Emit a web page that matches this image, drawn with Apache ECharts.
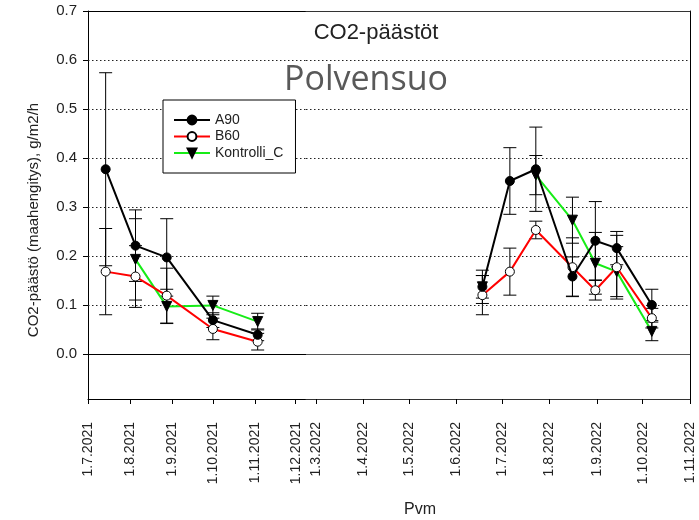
<!DOCTYPE html>
<html>
<head>
<meta charset="utf-8">
<script src="https://cdn.jsdelivr.net/npm/echarts@6.0.0/dist/echarts.min.js"></script>
<style>
  html, body { margin: 0; padding: 0; background: #fff; }
  #chart { width: 699px; height: 520px; }
</style>
</head>
<body>
<div id="chart"></div>
<script>
// Sampling dates (two field seasons, drawn on a broken time axis)
const dates2021 = ['2021-07-14', '2021-08-05', '2021-08-28', '2021-10-01', '2021-11-03'];
const dates2022 = ['2022-06-18', '2022-07-06', '2022-07-23', '2022-08-16', '2022-08-31', '2022-09-14', '2022-10-07'];

// CO2 emission means (g/m2/h) and error-bar half widths
const a90_2021    = [0.377, 0.221, 0.197, 0.069, 0.039];
const a90Err2021  = [0.197, 0.073, 0.079, 0.015, 0.012];
const b60_2021    = [0.168, 0.158, 0.119, 0.051, 0.025];
const b60Err2021  = [0.088, 0.063, 0.056, 0.022, 0.017];
const kon_2021    = [null, 0.193, 0.097, 0.099, 0.066];
const konErr2021  = [null, 0.083, 0.035, 0.019, 0.017];

const a90_2022    = [0.137, 0.353, 0.377, 0.158, 0.231, 0.216, 0.100];
const a90Err2022  = [0.034, 0.068, 0.086, 0.040, 0.080, 0.034, 0.032];
const b60_2022    = [0.120, 0.168, 0.253, 0.177, 0.130, 0.177, 0.073];
const b60Err2022  = [0.040, 0.048, 0.018, 0.060, 0.020, 0.065, 0.020];
const kon_2022    = [0.137, null, 0.365, 0.273, 0.185, 0.168, 0.046];
const konErr2022  = [0.023, null, 0.040, 0.047, 0.063, 0.051, 0.019];

// Axis tick labels
const tickDates2021 = ['2021-07-01', '2021-08-01', '2021-09-01', '2021-10-01', '2021-11-01', '2021-12-01'];
const tickDates2022 = ['2022-03-01', '2022-04-01', '2022-05-01', '2022-06-01', '2022-07-01',
                       '2022-08-01', '2022-09-01', '2022-10-01', '2022-11-01'];
const yTicks = [0, 0.1, 0.2, 0.3, 0.4, 0.5, 0.6, 0.7];
const gridLevels = [0.1, 0.2, 0.3, 0.4, 0.5, 0.6];

const DAY = 86400000;
const t = s => Date.parse(s);

// Extents of the two axis segments on either side of the break
const seg1Min = t('2021-07-01');
const seg1Max = seg1Min + 160.6 * DAY;
const seg2Min = t('2022-03-01') - 6.55 * DAY;
const seg2Max = t('2022-11-01');

const FONT = 'Liberation Sans, Arial, sans-serif';
const TEXT = '#222';

function fmtDate(v) {
  const d = new Date(v);
  return d.getUTCDate() + '.' + (d.getUTCMonth() + 1) + '.' + d.getUTCFullYear();
}

function points(dates, vals) {
  return dates.map((d, i) => [t(d), vals[i]]);
}
function errPoints(dates, vals, errs) {
  const out = [];
  dates.forEach((d, i) => {
    if (vals[i] != null && errs[i] != null) out.push([t(d), vals[i] - errs[i], vals[i] + errs[i]]);
  });
  return out;
}

function errorBarItem(params, api) {
  const x = api.value(0);
  const lo = api.coord([x, api.value(1)]);
  const hi = api.coord([x, api.value(2)]);
  const hw = 6.5;
  const style = { stroke: '#000', lineWidth: 1 };
  return {
    type: 'group',
    children: [
      { type: 'line', shape: { x1: hi[0], y1: hi[1], x2: lo[0], y2: lo[1] }, style },
      { type: 'line', shape: { x1: hi[0] - hw, y1: hi[1], x2: hi[0] + hw, y2: hi[1] }, style },
      { type: 'line', shape: { x1: lo[0] - hw, y1: lo[1], x2: lo[0] + hw, y2: lo[1] }, style }
    ]
  };
}

const styles = {
  A90: { line: '#000', symbol: 'circle', size: 9, fill: '#000', border: '#000' },
  B60: { line: '#ff0000', symbol: 'circle', size: 9, fill: '#fff', border: '#000' },
  Kontrolli_C: { line: '#16ec16', symbol: 'triangle', size: 10, fill: '#000', border: '#000', rotate: 180 }
};

function lineSeries(name, data, seg, z) {
  const s = styles[name];
  return {
    type: 'line', name, data,
    xAxisIndex: seg, yAxisIndex: seg,
    symbol: s.symbol, symbolSize: s.size, symbolRotate: s.rotate || 0,
    showAllSymbol: true, connectNulls: false,
    lineStyle: { color: s.line, width: 2 },
    itemStyle: { color: s.fill, borderColor: s.border, borderWidth: 1, opacity: 1 },
    emphasis: { disabled: true },
    z, animation: false
  };
}

function errSeries(name, data, seg) {
  return {
    type: 'custom', name: name + ' virhe', data,
    xAxisIndex: seg, yAxisIndex: seg,
    encode: { x: 0, y: [1, 2] },
    renderItem: errorBarItem,
    z: 3, silent: true, animation: false
  };
}

function refLines(seg, zeroColor) {
  return {
    type: 'line', name: 'ref' + seg, data: [],
    xAxisIndex: seg, yAxisIndex: seg,
    silent: true, z: 1, animation: false,
    markLine: {
      silent: true, symbol: 'none', animation: false,
      label: { show: false },
      data: gridLevels.map(v => ({ yAxis: v, lineStyle: { type: [1.5, 2.5], color: '#222', width: 1 } }))
        .concat([{ yAxis: 0, lineStyle: { type: 'solid', color: zeroColor, width: 1 } }])
    }
  };
}

function xAxes(seg, min, max, ticks) {
  const vals = ticks.map(t);
  return [
    {
      type: 'value', gridIndex: seg, position: 'bottom', min, max,
      axisLine: { onZero: false, lineStyle: { color: seg ? '#333' : '#000', width: 1 } },
      axisTick: { show: true, inside: false, length: 5, customValues: vals, lineStyle: { color: '#000' } },
      axisLabel: {
        show: true, customValues: vals, rotate: 90, margin: 23,
        formatter: fmtDate, color: TEXT, fontFamily: FONT, fontSize: 14
      },
      splitLine: { show: false }
    }
  ];
}

const xAxisList = [
  ...xAxes(0, seg1Min, seg1Max, tickDates2021),
  ...xAxes(1, seg2Min, seg2Max, tickDates2022),
  { type: 'value', gridIndex: 0, position: 'top', min: seg1Min, max: seg1Max,
    axisLine: { onZero: false, lineStyle: { color: '#000' } }, axisTick: { show: false },
    axisLabel: { show: false }, splitLine: { show: false } },
  { type: 'value', gridIndex: 1, position: 'top', min: seg2Min, max: seg2Max,
    axisLine: { onZero: false, lineStyle: { color: '#333' } }, axisTick: { show: false },
    axisLabel: { show: false }, splitLine: { show: false } }
];

const yAxisList = [
  {
    type: 'value', gridIndex: 0, position: 'left', min: -0.092, max: 0.7,
    name: 'CO2-päästö (maahengitys), g/m2/h', nameLocation: 'middle', nameGap: 47,
    nameTextStyle: { color: TEXT, fontFamily: FONT, fontSize: 15, padding: [0, 30, 0, 0] },
    axisLine: { onZero: false, lineStyle: { color: '#000' } },
    axisTick: { show: true, length: 5, customValues: yTicks, lineStyle: { color: '#000' } },
    axisLabel: { customValues: yTicks, formatter: v => v.toFixed(1), color: TEXT, fontFamily: FONT, fontSize: 15, margin: 11 },
    splitLine: { show: false }
  },
  {
    type: 'value', gridIndex: 1, position: 'right', min: -0.092, max: 0.7,
    axisLine: { show: true, onZero: false, lineStyle: { color: '#000' } },
    axisTick: { show: false }, axisLabel: { show: false }, splitLine: { show: false }
  }
];

const series = [
  refLines(0, '#000'),
  refLines(1, '#555'),
  errSeries('A90', errPoints(dates2021, a90_2021, a90Err2021), 0),
  errSeries('B60', errPoints(dates2021, b60_2021, b60Err2021), 0),
  errSeries('Kontrolli_C', errPoints(dates2021, kon_2021, konErr2021), 0),
  errSeries('A90', errPoints(dates2022, a90_2022, a90Err2022), 1),
  errSeries('B60', errPoints(dates2022, b60_2022, b60Err2022), 1),
  errSeries('Kontrolli_C', errPoints(dates2022, kon_2022, konErr2022), 1),
  lineSeries('A90', points(dates2021, a90_2021), 0, 7),
  lineSeries('B60', points(dates2021, b60_2021), 0, 6),
  lineSeries('Kontrolli_C', points(dates2021, kon_2021), 0, 5),
  lineSeries('A90', points(dates2022, a90_2022), 1, 7),
  lineSeries('B60', points(dates2022, b60_2022), 1, 6),
  lineSeries('Kontrolli_C', points(dates2022, kon_2022), 1, 5)
];

const chart = echarts.init(document.getElementById('chart'), null, { renderer: 'canvas' });
chart.setOption({
  animation: false,
  backgroundColor: '#fff',
  title: [
    { text: 'CO2-päästöt', left: 376, top: 22, textAlign: 'center', padding: 0,
      textStyle: { fontFamily: FONT, fontSize: 22, fontWeight: 'normal', color: TEXT } },
    { text: 'Polvensuo', left: 366, top: 63, textAlign: 'center', padding: 0,
      textStyle: { fontFamily: 'Open Sans, Noto Sans, sans-serif', fontSize: 34, fontWeight: 'normal', color: '#595959' } },
    { text: 'Pvm', left: 420, top: 502, textAlign: 'center', padding: 0,
      textStyle: { fontFamily: FONT, fontSize: 16, fontWeight: 'normal', color: TEXT } }
  ],
  legend: {
    data: ['A90', 'B60', 'Kontrolli_C'],
    orient: 'vertical', left: 163, top: 100,
    padding: [13, 12, 13, 10], itemGap: 2.5, itemWidth: 36, itemHeight: 11,
    backgroundColor: '#fff', borderColor: '#000', borderWidth: 1, borderRadius: 0,
    textStyle: { fontFamily: FONT, fontSize: 14, color: TEXT },
    selectedMode: false, z: 20
  },
  grid: [
    { left: 88, top: 11, width: 218, height: 388, containLabel: false },
    { left: 306, top: 11, width: 384, height: 388, containLabel: false }
  ],
  xAxis: xAxisList,
  yAxis: yAxisList,
  series
});
</script>
</body>
</html>
